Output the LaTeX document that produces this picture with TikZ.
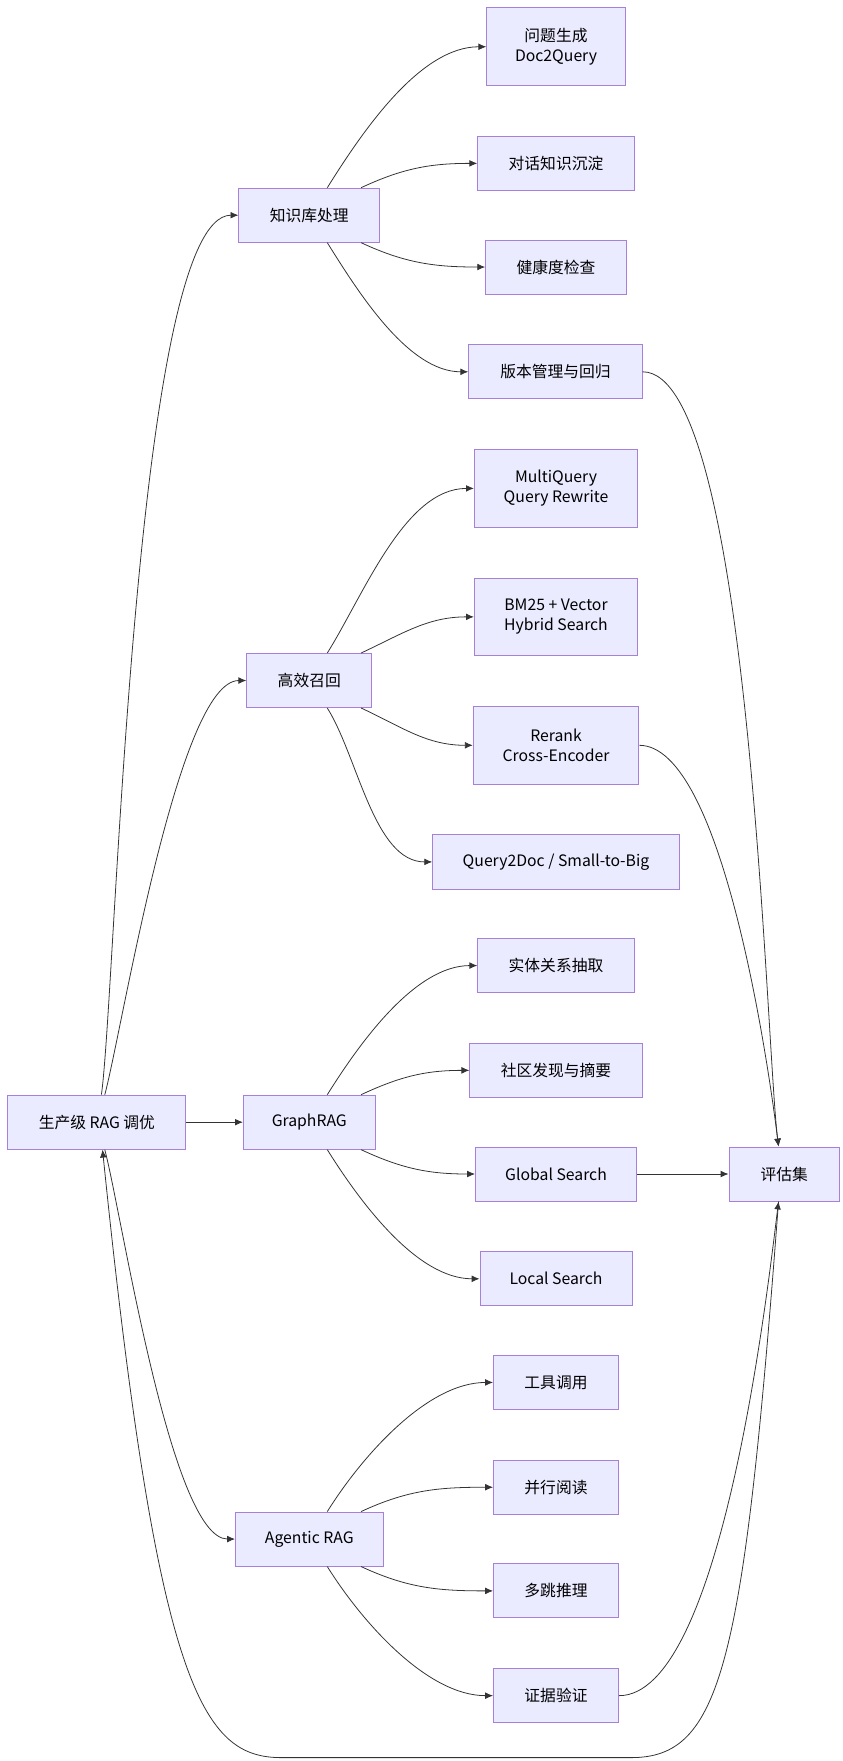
\documentclass[tikz,border=0pt]{standalone}
\usepackage{fontspec}
\setmainfont{Noto Sans CJK SC}
\usetikzlibrary{arrows.meta, positioning}

\begin{document}
\begin{tikzpicture}[x=1pt, y=-1pt,
    box/.style={draw=violet!60!blue!50, fill=blue!8, line width=0.8pt, rectangle, minimum height=48pt, inner xsep=24pt, font=\fontsize{14}{18}\selectfont, align=center},
    arrow/.style={-{Latex[length=7pt,width=6pt]}, black!80, line width=0.7pt}
]
\useasboundingbox (0,0) rectangle (748,1563);
% root and branches
\node[box, minimum width=158pt] (root) at (86,996) {生产级 RAG 调优};
\node[box, minimum width=125pt] (kb) at (274.5,191) {知识库处理};
\node[box, minimum width=111pt] (recall) at (274.5,604) {高效召回};
\node[box, minimum width=117pt] (graph) at (274.5,996) {GraphRAG};
\node[box, minimum width=131pt] (agent) at (274.5,1366) {Agentic RAG};
\node[box, minimum width=98pt] (eval) at (696,1042) {评估集};

% leaves
\node[box, minimum width=123pt, minimum height=69pt] (docq) at (493.5,41.5) {问题生成\\Doc2Query};
\node[box, minimum width=139pt] (dialog) at (493.5,145) {对话知识沉淀};
\node[box, minimum width=125pt] (health) at (493.5,237) {健康度检查};
\node[box, minimum width=154pt] (version) at (493,330) {版本管理与回归};
\node[box, minimum width=145pt, minimum height=69pt] (multi) at (493.5,433.5) {MultiQuery\\Query Rewrite};
\node[box, minimum width=145pt, minimum height=69pt] (hybrid) at (493.5,547.5) {BM25 + Vector\\Hybrid Search};
\node[box, minimum width=147pt, minimum height=69pt] (rerank) at (493.5,661.5) {Rerank\\Cross-Encoder};
\node[box, minimum width=219pt] (q2d) at (493.5,765) {Query2Doc / Small-to-Big};
\node[box, minimum width=139pt] (entity) at (493.5,857) {实体关系抽取};
\node[box, minimum width=153pt] (comm) at (493.5,950) {社区发现与摘要};
\node[box, minimum width=143pt] (global) at (493.5,1042) {Global Search};
\node[box, minimum width=135pt] (local) at (493.5,1135) {Local Search};
\node[box, minimum width=111pt] (tool) at (493.5,1227) {工具调用};
\node[box, minimum width=111pt] (para) at (493.5,1320) {并行阅读};
\node[box, minimum width=111pt] (hop) at (493.5,1412) {多跳推理};
\node[box, minimum width=111pt] (evid) at (493.5,1505) {证据验证};

% root to branches
\draw[arrow] ([xshift=4pt]root.north) to[out=82, in=180, looseness=0.3] (kb.west);
\draw[arrow] ([xshift=7pt]root.north) to[out=75, in=180, looseness=0.4] (recall.west);
\draw[arrow] (root.east) -- (graph.west);
\draw[arrow] ([xshift=7pt]root.south) to[out=-75, in=180, looseness=0.4] (agent.west);

% branches to leaves
\draw[arrow] ([xshift=16pt]kb.north) to[out=58, in=180, looseness=0.8] (docq.west);
\draw[arrow] ([xshift=46pt]kb.north) to[out=25, in=180] (dialog.west);
\draw[arrow] ([xshift=46pt]kb.south) to[out=-25, in=180] (health.west);
\draw[arrow] ([xshift=16pt]kb.south) to[out=-58, in=180, looseness=0.8] (version.west);
\draw[arrow] ([xshift=16pt]recall.north) to[out=58, in=180, looseness=0.8] (multi.west);
\draw[arrow] ([xshift=46pt]recall.north) to[out=25, in=180] (hybrid.west);
\draw[arrow] ([xshift=46pt]recall.south) to[out=-25, in=180] (rerank.west);
\draw[arrow] ([xshift=16pt]recall.south) to[out=-58, in=180, looseness=0.8] (q2d.west);
\draw[arrow] ([xshift=16pt]graph.north) to[out=58, in=180, looseness=0.8] (entity.west);
\draw[arrow] ([xshift=46pt]graph.north) to[out=25, in=180] (comm.west);
\draw[arrow] ([xshift=46pt]graph.south) to[out=-25, in=180] (global.west);
\draw[arrow] ([xshift=16pt]graph.south) to[out=-58, in=180, looseness=0.8] (local.west);
\draw[arrow] ([xshift=16pt]agent.north) to[out=58, in=180, looseness=0.8] (tool.west);
\draw[arrow] ([xshift=46pt]agent.north) to[out=25, in=180] (para.west);
\draw[arrow] ([xshift=46pt]agent.south) to[out=-25, in=180] (hop.west);
\draw[arrow] ([xshift=16pt]agent.south) to[out=-58, in=180, looseness=0.8] (evid.west);

% leaves to evaluation set
\draw[arrow] (version.east) to[out=0, in=97, looseness=0.35] ([xshift=-5pt]eval.north);
\draw[arrow] (rerank.east) to[out=0, in=97, looseness=0.5] ([xshift=-5pt]eval.north);
\draw[arrow] (global.east) -- (eval.west);
\draw[arrow] (evid.east) to[out=0, in=-97, looseness=0.5] ([xshift=-5pt]eval.south);

% feedback loop
\draw[arrow] ([xshift=-5pt]eval.south) .. controls (660,1480) and (640,1560) .. (560,1560)
    -- (250,1560) .. controls (180,1560) and (140,1500) .. ([xshift=5pt]root.south);
\end{tikzpicture}
\end{document}
